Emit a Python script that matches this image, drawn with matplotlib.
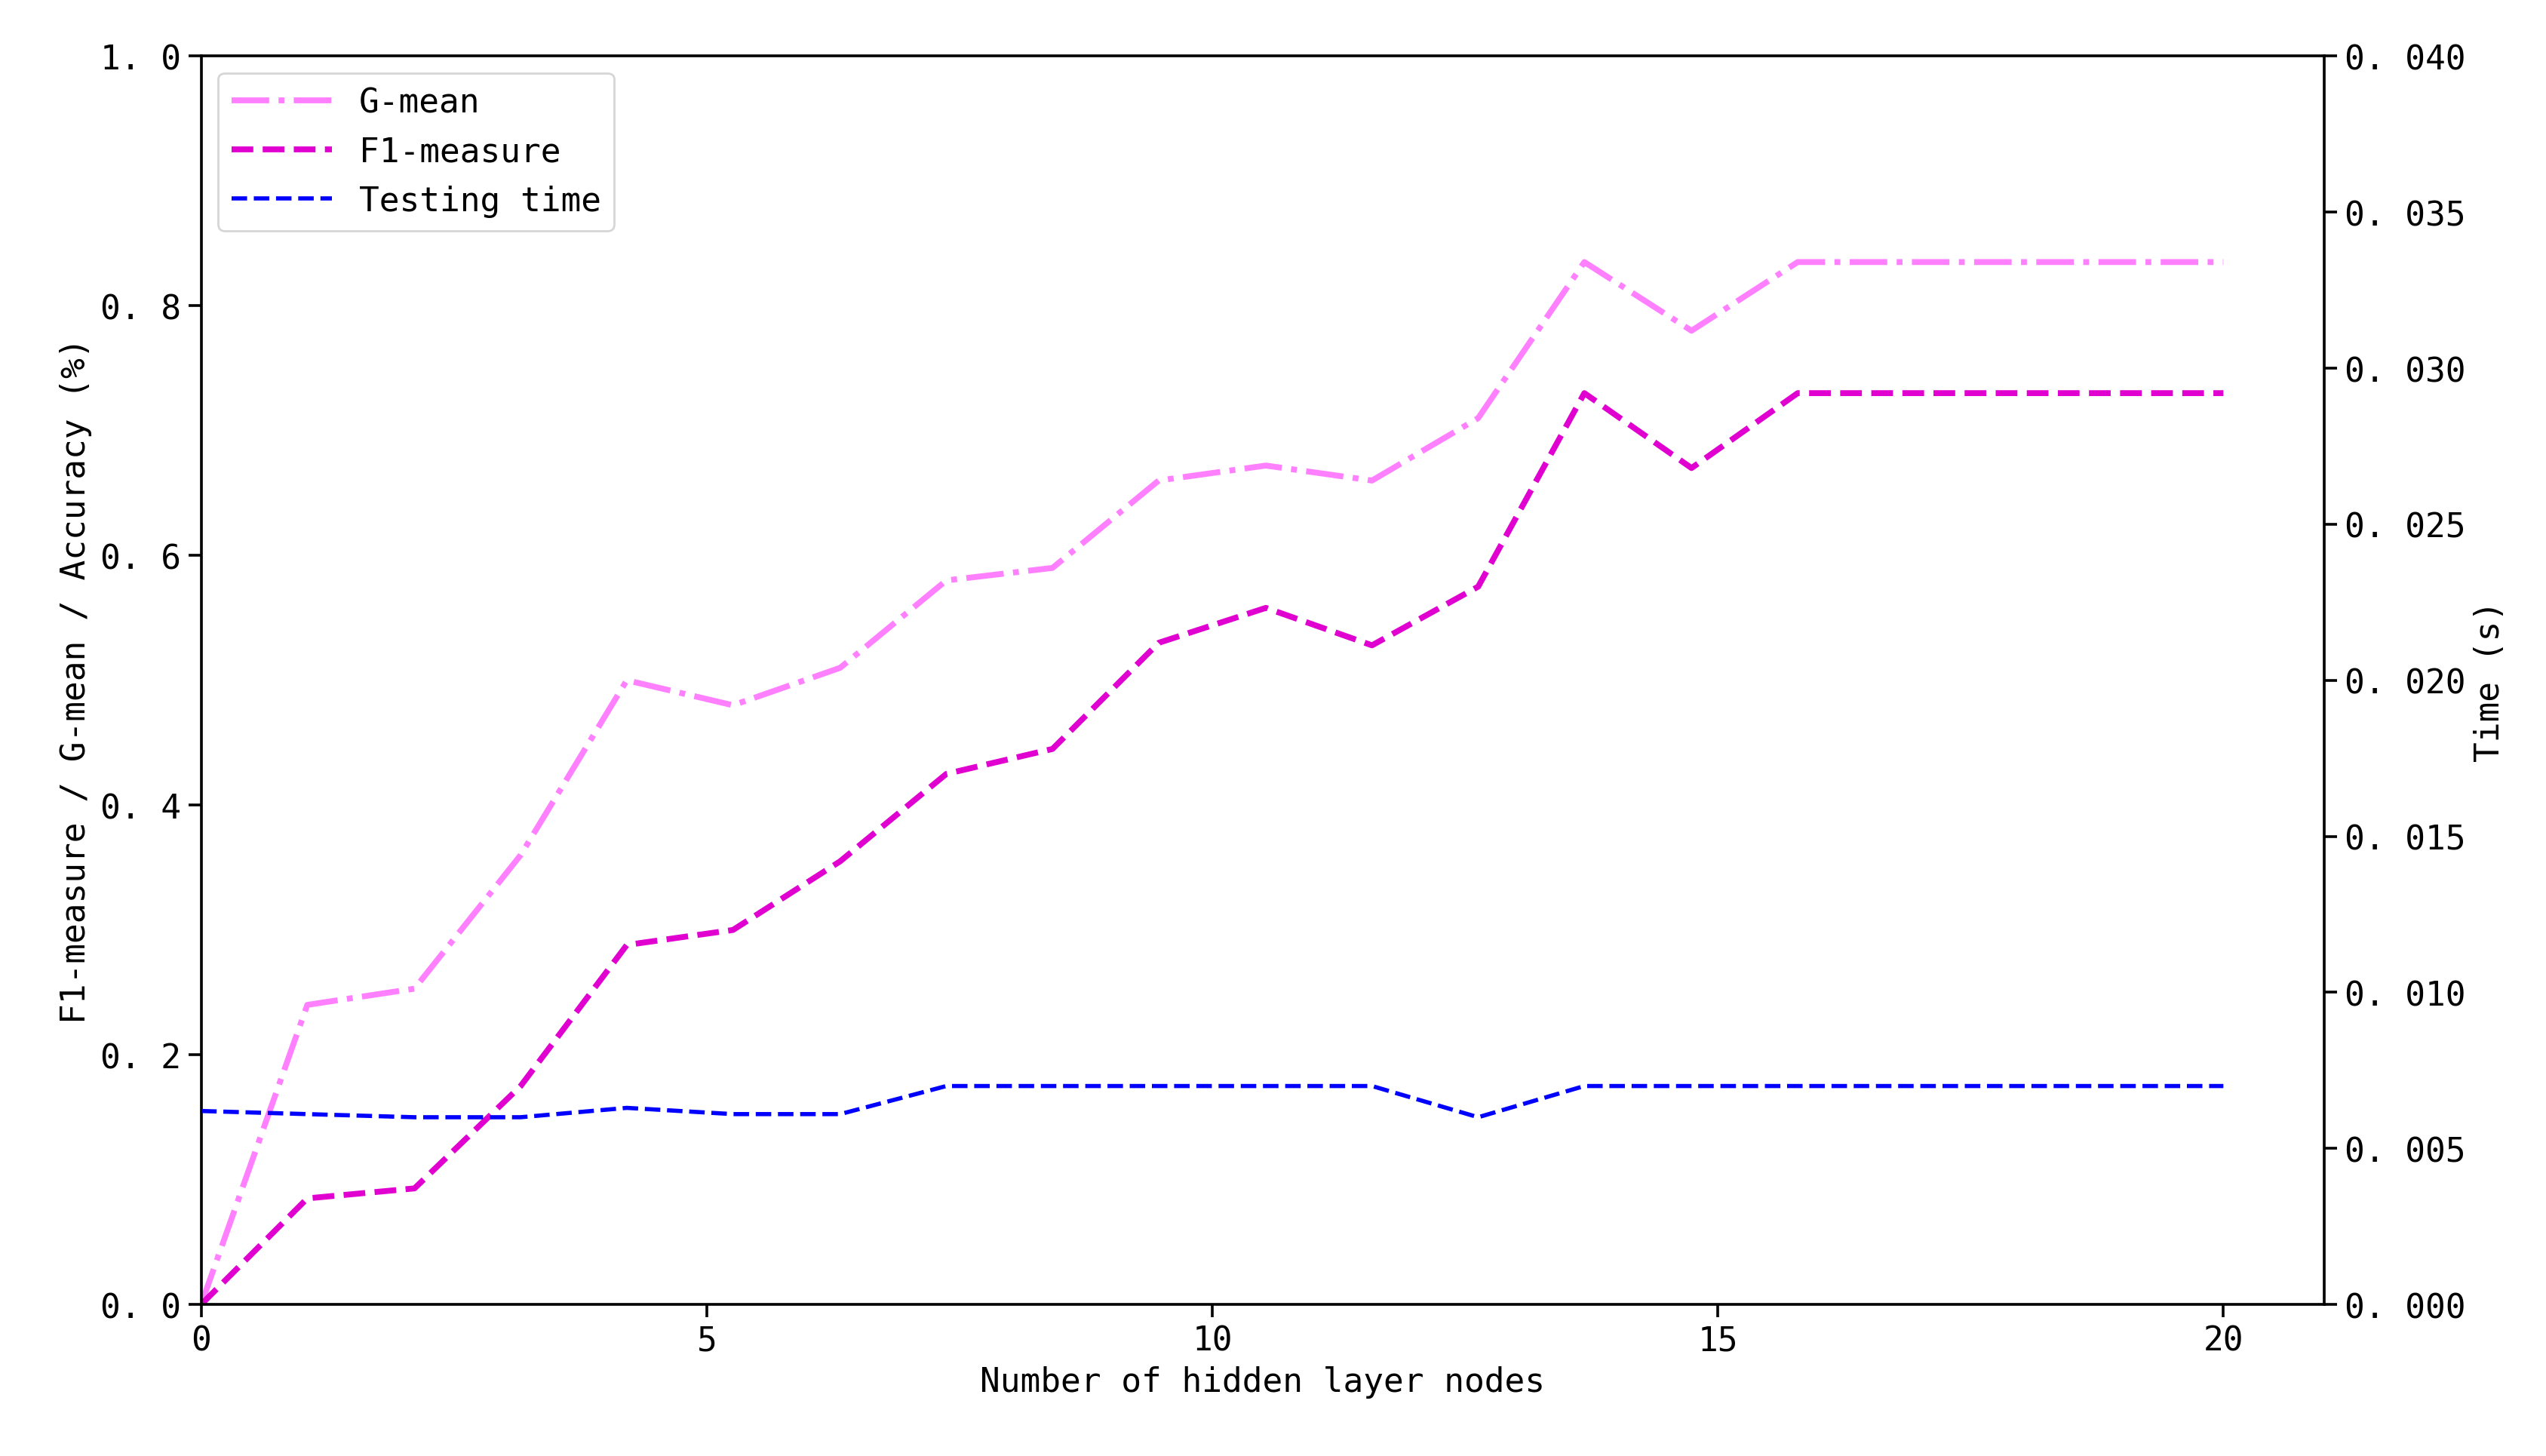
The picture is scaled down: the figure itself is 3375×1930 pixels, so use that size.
import matplotlib
matplotlib.use('Agg')
import matplotlib.pyplot as plt
from matplotlib.ticker import FuncFormatter

plt.rcParams['font.family'] = ['DejaVu Sans Mono']

# 隐层节点数
nodes = [0.0, 1.05, 2.11, 3.16, 4.21, 5.26, 6.32, 7.37, 8.42, 9.47,
         10.53, 11.58, 12.63, 13.68, 14.74, 15.79, 16.84, 17.89, 18.95, 20.0]
g_mean = [0.0, 0.24, 0.253, 0.36, 0.50, 0.48, 0.51, 0.58, 0.59, 0.66,
          0.672, 0.66, 0.71, 0.835, 0.78, 0.835, 0.835, 0.835, 0.835, 0.835]
f1 = [0.0, 0.085, 0.093, 0.175, 0.288, 0.30, 0.355, 0.425, 0.445, 0.53,
      0.558, 0.528, 0.575, 0.73, 0.67, 0.73, 0.73, 0.73, 0.73, 0.73]
test_time = [0.0062, 0.0061, 0.0060, 0.0060, 0.0063, 0.0061, 0.0061, 0.0070, 0.0070, 0.0070,
             0.0070, 0.0070, 0.0060, 0.0070, 0.0070, 0.0070, 0.0070, 0.0070, 0.0070, 0.0070]

fig = plt.figure(figsize=(16.875, 9.655), dpi=200)
ax = fig.add_axes([0.079, 0.104, 0.834, 0.857])
ax2 = ax.twinx()

l1, = ax.plot(nodes, g_mean, color='#ff80ff', linestyle='-.', linewidth=2.8, label='G-mean')
l2, = ax.plot(nodes, f1, color='#e000d0', linestyle='--', linewidth=2.8, label='F1-measure')
l3, = ax2.plot(nodes, test_time, color='#0000ff', linestyle='--', linewidth=2.0, label='Testing time')

ax.set_xlim(0, 21)
ax.set_ylim(0, 1.0)
ax2.set_ylim(0, 0.040)
ax.set_xticks([0, 5, 10, 15, 20])
ax.set_yticks([0, 0.2, 0.4, 0.6, 0.8, 1.0])
ax2.set_yticks([0, 0.005, 0.010, 0.015, 0.020, 0.025, 0.030, 0.035, 0.040])
ax.yaxis.set_major_formatter(FuncFormatter(lambda v, p: f'{v:.1f}'.replace('.', '. ')))
ax2.yaxis.set_major_formatter(FuncFormatter(lambda v, p: f'{v:.3f}'.replace('.', '. ')))

for a in (ax, ax2):
    a.tick_params(labelsize=16, width=1.3, length=6)
for s in ax.spines.values():
    s.set_linewidth(1.3)

ax.set_xlabel('Number of hidden layer nodes', fontsize=16)
ax.set_ylabel('F1-measure / G-mean / Accuracy (%)', fontsize=16)
ax2.set_ylabel('Time (s)', fontsize=16)

ax.legend(handles=[l1, l2, l3], loc='upper left', fontsize=16, handlelength=3)

fig.savefig('out.png', dpi=200)
